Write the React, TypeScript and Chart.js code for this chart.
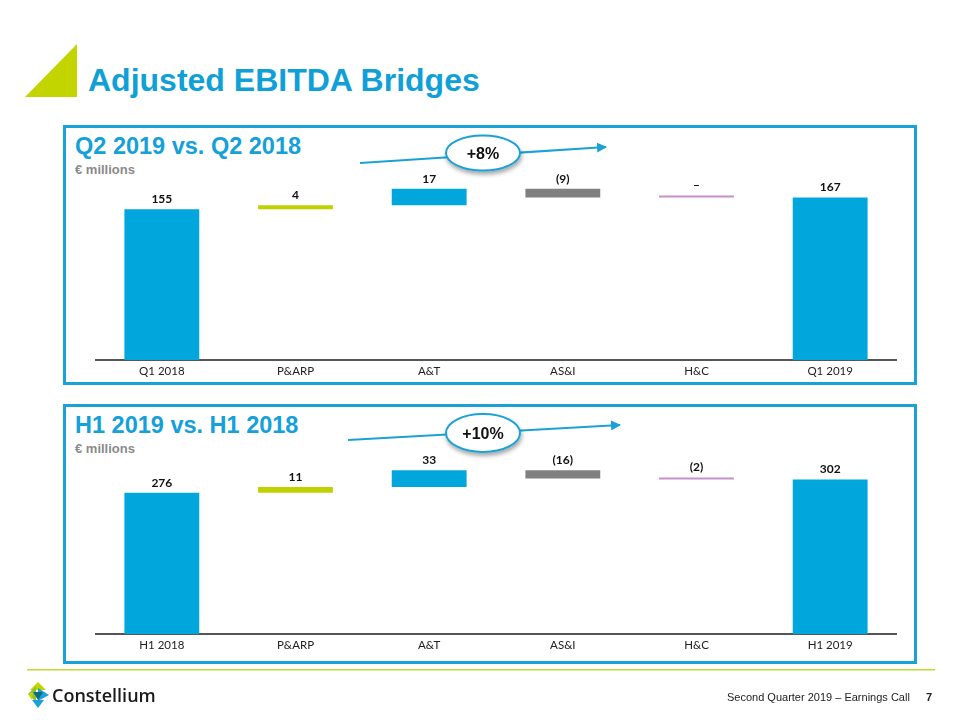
import React, { useEffect, useRef } from "react";
import { Chart, registerables } from "chart.js";

Chart.register(...registerables);

// ---- Data ----
const categoriesQ = ["Q1 2018", "P&ARP", "A&T", "AS&I", "H&C", "Q1 2019"];
const startQ = 155;
const deltasQ = [4, 17, -9, 0];
const endQ = 167;

const categoriesH = ["H1 2018", "P&ARP", "A&T", "AS&I", "H&C", "H1 2019"];
const startH = 276;
const deltasH = [11, 33, -16, -2];
const endH = 302;

const barColors = ["#00a6dc", "#bfd200", "#00a6dc", "#808080", "#c892c8", "#00a6dc"];

const BLUE = "#1aa1d6";
const LABEL_FONT = "Lato, 'Liberation Sans', sans-serif";

function fmt(v: number): string {
  if (v > 0) return String(v);
  if (v < 0) return `(${-v})`;
  return "–";
}

function buildBars(start: number, deltas: number[], end: number) {
  const data: [number, number][] = [[0, start]];
  const labels: string[] = [String(start)];
  let cum = start;
  for (const d of deltas) {
    data.push([cum, cum + d]);
    labels.push(fmt(d));
    cum += d;
  }
  data.push([0, end]);
  labels.push(String(end));
  return { data, labels };
}

const labelPlugin = {
  id: "barLabels",
  afterDatasetsDraw(chart: any) {
    const ctx = chart.ctx;
    const meta = chart.getDatasetMeta(0);
    const texts: string[] = chart.options.plugins.barLabels.texts;
    ctx.save();
    ctx.font = `bold 12px ${LABEL_FONT}`;
    ctx.fillStyle = "#111";
    ctx.textAlign = "center";
    ctx.textBaseline = "bottom";
    meta.data.forEach((el: any, i: number) => {
      const top = Math.min(el.y, el.base);
      ctx.fillText(texts[i], el.x, top - 4);
    });
    ctx.restore();
  },
};

function Waterfall(props: {
  cats: string[];
  start: number;
  deltas: number[];
  end: number;
  max: number;
  left: number;
  top: number;
  width: number;
  height: number;
}) {
  const ref = useRef<HTMLCanvasElement | null>(null);
  useEffect(() => {
    if (!ref.current) return;
    const { data, labels } = buildBars(props.start, props.deltas, props.end);
    const chart = new Chart(ref.current, {
      type: "bar",
      data: {
        labels: props.cats,
        datasets: [
          {
            data: data as any,
            backgroundColor: barColors,
            borderWidth: 0,
            barPercentage: 0.56,
            categoryPercentage: 1,
            minBarLength: 2,
          },
        ],
      },
      options: {
        animation: false,
        responsive: false,
        maintainAspectRatio: false,
        layout: { padding: { top: 30, left: 0, right: 0, bottom: 0 } },
        plugins: {
          legend: { display: false },
          tooltip: { enabled: false },
          barLabels: { texts: labels },
        } as any,
        scales: {
          x: {
            grid: { display: true, color: "transparent", drawTicks: false },
            border: { display: true, color: "#555", width: 2 },
            ticks: {
              padding: 4,
              color: "#222",
              font: { family: LABEL_FONT, size: 11.5 },
            },
            afterFit: (scale: any) => {
              scale.height = 22;
            },
          },
          y: { display: false, min: 0, max: props.max },
        },
      },
      plugins: [labelPlugin],
    });
    return () => chart.destroy();
  }, []);
  return (
    <canvas
      ref={ref}
      width={props.width}
      height={props.height}
      style={{
        position: "absolute",
        left: props.left,
        top: props.top,
        width: props.width,
        height: props.height,
      }}
    />
  );
}

function Panel(props: { top: number; title: string }) {
  return (
    <>
      <div
        style={{
          position: "absolute",
          left: 63,
          top: props.top,
          width: 854,
          height: 260,
          boxSizing: "border-box",
          border: `3px solid ${BLUE}`,
        }}
      />
      <div
        style={{
          position: "absolute",
          left: 75,
          top: props.top + 7,
          fontFamily: "'Liberation Sans', Arial, sans-serif",
          fontWeight: "bold",
          fontSize: 23.5,
          color: "#14a0d8",
          whiteSpace: "nowrap",
          lineHeight: "28px",
        }}
      >
        {props.title}
      </div>
      <div
        style={{
          position: "absolute",
          left: 75,
          top: props.top + 37,
          fontFamily: "'Liberation Sans', Arial, sans-serif",
          fontWeight: "bold",
          fontSize: 13,
          color: "#8a8a8a",
          whiteSpace: "nowrap",
          lineHeight: "16px",
        }}
      >
        € millions
      </div>
    </>
  );
}

function Callout(props: { x1: number; y1: number; x2: number; y2: number; cx: number; cy: number; rx: number; ry: number; text: string }) {
  return (
    <g>
      <line x1={props.x1} y1={props.y1} x2={props.x2} y2={props.y2} stroke={BLUE} strokeWidth={2} markerEnd="url(#arrow)" />
      <ellipse cx={props.cx} cy={props.cy} rx={props.rx} ry={props.ry} fill="#fff" stroke={BLUE} strokeWidth={2} filter="url(#shadow)" />
      <text
        x={props.cx}
        y={props.cy + 6}
        textAnchor="middle"
        fontFamily="'Liberation Sans', Arial, sans-serif"
        fontWeight="bold"
        fontSize={16}
        fill="#111"
      >
        {props.text}
      </text>
    </g>
  );
}

export default function App() {
  return (
    <div
      style={{
        position: "absolute",
        left: 0,
        top: 0,
        width: 960,
        height: 720,
        background: "#fff",
        overflow: "hidden",
      }}
    >
      {/* title */}
      <svg width={960} height={720} style={{ position: "absolute", left: 0, top: 0 }}>
        <polygon points="25,97 77,44 77,97" fill="#c2d500" />
      </svg>
      <div
        style={{
          position: "absolute",
          left: 88,
          top: 60,
          fontFamily: "'Liberation Sans', Arial, sans-serif",
          fontWeight: "bold",
          fontSize: 32,
          lineHeight: "40px",
          color: "#0fa0d8",
          whiteSpace: "nowrap",
        }}
      >
        Adjusted EBITDA Bridges
      </div>

      <Panel top={125} title="Q2 2019 vs. Q2 2018" />
      <Panel top={404} title="H1 2019 vs. H1 2018" />

      <Waterfall cats={categoriesQ} start={startQ} deltas={deltasQ} end={endQ} max={185} left={95} top={150} width={802} height={232} />
      <Waterfall cats={categoriesH} start={startH} deltas={deltasH} end={endH} max={340} left={95} top={430} width={802} height={226} />

      <svg width={960} height={720} style={{ position: "absolute", left: 0, top: 0, pointerEvents: "none" }}>
        <defs>
          <marker id="arrow" viewBox="0 0 10 10" refX="9" refY="5" markerWidth="5" markerHeight="5" orient="auto">
            <path d="M0,0 L10,5 L0,10 z" fill={BLUE} />
          </marker>
          <filter id="shadow" x="-30%" y="-30%" width="160%" height="170%">
            <feDropShadow dx="1" dy="3" stdDeviation="2" floodColor="#000" floodOpacity="0.35" />
          </filter>
        </defs>
        <Callout x1={360} y1={163} x2={606} y2={147} cx={483} cy={153} rx={37} ry={17.5} text="+8%" />
        <Callout x1={348} y1={440} x2={620} y2={425} cx={483} cy={433} rx={37} ry={19} text="+10%" />

        {/* footer rule */}
        <rect x={27} y={669} width={908} height={1.5} fill="#c6d730" />
        {/* logo */}
        <polygon points="38,682 46,690 30,690" fill="#c2d500" />
        <polygon points="28,694 36,686 36,702" fill="#8fbf3a" />
        <polygon points="38,688 49,695 38,701" fill="#1aa1d6" />
        <polygon points="33,692 43,692 38,700" fill="#0a6e7e" />
        <polygon points="32,700 44,700 38,708" fill="#1aa1d6" />
        <polygon points="28,694 33,692 32,700" fill="#c2d500" />
      </svg>
      <div
        style={{
          position: "absolute",
          left: 52,
          top: 683,
          fontFamily: "'Open Sans', Lato, sans-serif",
          fontSize: 18,
          fontWeight: 600,
          lineHeight: "24px",
          color: "#1a1a1a",
          whiteSpace: "nowrap",
        }}
      >
        Constellium
      </div>
      <div
        style={{
          position: "absolute",
          left: 727,
          top: 690,
          fontFamily: "'Liberation Sans', Arial, sans-serif",
          fontSize: 11,
          lineHeight: "14px",
          color: "#222",
          whiteSpace: "nowrap",
        }}
      >
        Second Quarter 2019 – Earnings Call
      </div>
      <div
        style={{
          position: "absolute",
          left: 926,
          top: 690,
          fontFamily: "'Liberation Sans', Arial, sans-serif",
          fontSize: 11,
          fontWeight: "bold",
          lineHeight: "14px",
          color: "#222",
        }}
      >
        7
      </div>
    </div>
  );
}
